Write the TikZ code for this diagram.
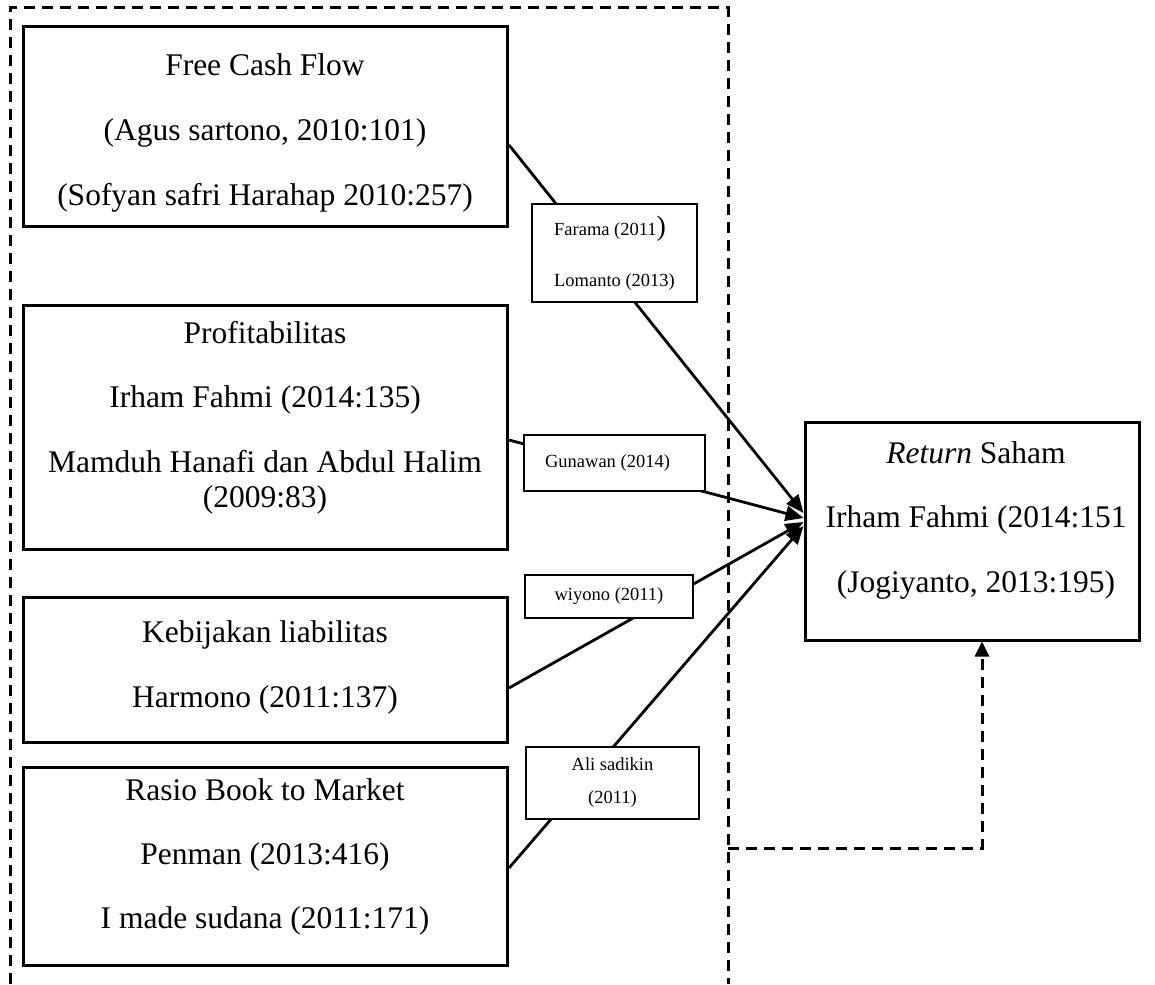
\documentclass[tikz,border=0pt]{standalone}
\usepackage{fontspec}
\setmainfont{Liberation Serif}
\usetikzlibrary{arrows.meta,calc}
\tikzset{
  mainbox/.style={draw, line width=3pt, rectangle, inner sep=0pt},
  maintext/.style={align=center, inner sep=0pt, font=\fontsize{31.5}{35}\selectfont},
  labbox/.style={draw, line width=2.4pt, fill=white, inner sep=0pt, font=\fontsize{18.5}{21}\selectfont},
  conn/.style={line width=2.8pt, -{Triangle[length=18pt,width=15pt]}},
  framedash/.style={line width=3pt, dash pattern=on 11pt off 7pt},
}
\begin{document}
\begin{tikzpicture}[x=1pt,y=-1pt]
\fill[white] (0,0) rectangle (1155,984);
\useasboundingbox (0,0) rectangle (1155,984);
% dashed frame
\draw[framedash] (10,984) -- (10,8) -- (728,8) -- (728,984);
\coordinate (dr) at (728,848);
% main boxes
\node[mainbox, minimum width=484pt, minimum height=200pt] (fcf) at (265.5,127) {};
\node[mainbox, minimum width=484pt, minimum height=244pt] (prof) at (265.5,427) {};
\node[mainbox, minimum width=484pt, minimum height=145pt] (keb) at (265.5,669.5) {};
\node[mainbox, minimum width=484pt, minimum height=198pt] (bm) at (265.5,866) {};
\node[mainbox, minimum width=334pt, minimum height=218pt] (ret) at (972,531) {};
% texts
\node[maintext] (fcf-t) at (265,133) {Free Cash Flow\\[30pt](Agus sartono, 2010:101)\\[30pt](Sofyan safri Harahap 2010:257)};
\node[maintext] (prof-t) at (265,417.5) {Profitabilitas\\[29.5pt]Irham Fahmi (2014:135)\\[29.5pt]Mamduh Hanafi dan Abdul Halim\\(2009:83)};
\node[maintext] (keb-t) at (265,667) {Kebijakan liabilitas\\[30pt]Harmono (2011:137)};
\node[maintext] (bm-t) at (265,856.5) {Rasio Book to Market\\[29pt]Penman (2013:416)\\[29pt]I made sudana (2011:171)};
\node[maintext] (ret-t) at (976,520) {\textit{Return} Saham\\[29pt]Irham Fahmi (2014:151\\[30pt](Jogiyanto, 2013:195)};
% connector end points
\coordinate (fcf-o) at ($(fcf.east)+(0,18)$);
\coordinate (prof-o) at ($(prof.east)+(0,13)$);
\coordinate (keb-o) at ($(keb.east)+(0,18.5)$);
\coordinate (bm-o) at ($(bm.east)+(0,2)$);
\coordinate (ret-i1) at ($(ret.west)+(0,-18)$);
\coordinate (ret-i2) at ($(ret.west)+(0,-13)$);
\coordinate (ret-i3) at ($(ret.west)+(0,-9)$);
\coordinate (ret-i4) at ($(ret.west)+(0,-5)$);
\coordinate (ret-b) at ($(ret.south)+(10,0)$);
% connectors
\draw[conn] (fcf-o) -- (ret-i1);
\draw[conn] (prof-o) -- (ret-i2);
\draw[conn] (keb-o) -- (ret-i3);
\draw[conn] (bm-o) -- (ret-i4);
\draw[framedash, -{Triangle[length=15pt,width=14pt]}] (dr) -| (ret-b);
% label boxes
\node[labbox, align=left, minimum width=165pt, minimum height=98pt] (l1) at (614.5,253) {Farama (2011{\fontsize{28}{21}\selectfont)}\\[30pt]Lomanto (2013)};
\node[labbox, minimum width=181pt, minimum height=56pt] (l2) at (614.5,463) {\hspace*{-14pt}Gunawan (2014)};
\node[labbox, minimum width=168pt, minimum height=43pt] (l3) at (609,596.5) {wiyono (2011)};
\node[labbox, align=center, minimum width=173pt, minimum height=72pt] (l4) at (612.5,783) {Ali sadikin\\[12pt](2011)};
\end{tikzpicture}
\end{document}
